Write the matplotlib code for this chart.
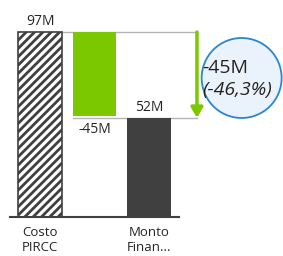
import matplotlib.pyplot as plt
from matplotlib.patches import Ellipse

plt.rcParams['font.family'] = ['Open Sans', 'DejaVu Sans']
plt.rcParams['hatch.linewidth'] = 2.0
plt.rcParams['hatch.color'] = '#404040'

categorias = ['Costo\nPIRCC', 'Monto\nFinan...']
inicio = 97
final = 52
diferencia = final - inicio
porcentaje = diferencia / inicio * 100

etiqueta_inicio = '97M'
etiqueta_final = '52M'
etiqueta_dif = '-45M'
etiqueta_pct = '(-46,3%)'

fig = plt.figure(figsize=(2.83, 2.56), dpi=100)
ax = fig.add_axes([0, 0, 1, 1])
ax.set_xlim(-0.734, 4.459)
ax.set_ylim(-20.45, 113.8)
ax.axis('off')

ancho = 0.8
# barra inicial rayada
ax.bar(0, inicio, width=ancho, color='white', edgecolor='#404040',
       hatch='////', linewidth=1.2, zorder=3)
# caja de variacion
ax.plot([-0.4, 2.88], [inicio, inicio], color='#b4b4b4', lw=1, zorder=2)
ax.plot([0.6, 2.88], [final, final], color='#b4b4b4', lw=1, zorder=2)
# barra verde de diferencia
ax.bar(1, -diferencia - 1, bottom=final + 1, width=ancho, color='#7cc800', zorder=3)
# barra final
ax.bar(2, final, width=ancho, color='#404040', zorder=3)
ax.plot([-0.55, 2.55], [0, 0], color='#404040', lw=1.5, zorder=4)

# flecha
ax.annotate('', xy=(2.88, final), xytext=(2.88, inicio),
            arrowprops=dict(arrowstyle='-|>,head_width=0.35,head_length=0.6',
                            color='#7cc800', lw=2.5, shrinkA=0, shrinkB=0),
            zorder=5)

# circulo
ax.add_patch(Ellipse((3.7, 72.9), 2 * 40 / 54.5, 2 * 40 / 1.907,
                     facecolor='#eaf2fb', edgecolor='#2a86d0', lw=1.3, zorder=4))
ax.text(2.98, 78.2, etiqueta_dif, fontsize=14, va='center', ha='left',
        color='#252423', zorder=6)
ax.text(2.98, 66.4, etiqueta_pct, fontsize=14, va='center', ha='left',
        style='italic', color='#252423', zorder=6)

# etiquetas de datos
ax.text(0, inicio + 1.8, etiqueta_inicio, fontsize=10, ha='center', va='bottom',
        color='#252423')
ax.text(2, final + 1.5, etiqueta_final, fontsize=10, ha='center', va='bottom',
        color='#252423')
ax.text(1, final - 2, etiqueta_dif, fontsize=10, ha='center', va='top',
        color='#252423')

# categorias
for x, c in zip([0, 2], categorias):
    ax.text(x, -4.6, c, fontsize=9.5, ha='center', va='top', color='#252423',
            linespacing=1.25)

fig.savefig('out.png', dpi=100)
